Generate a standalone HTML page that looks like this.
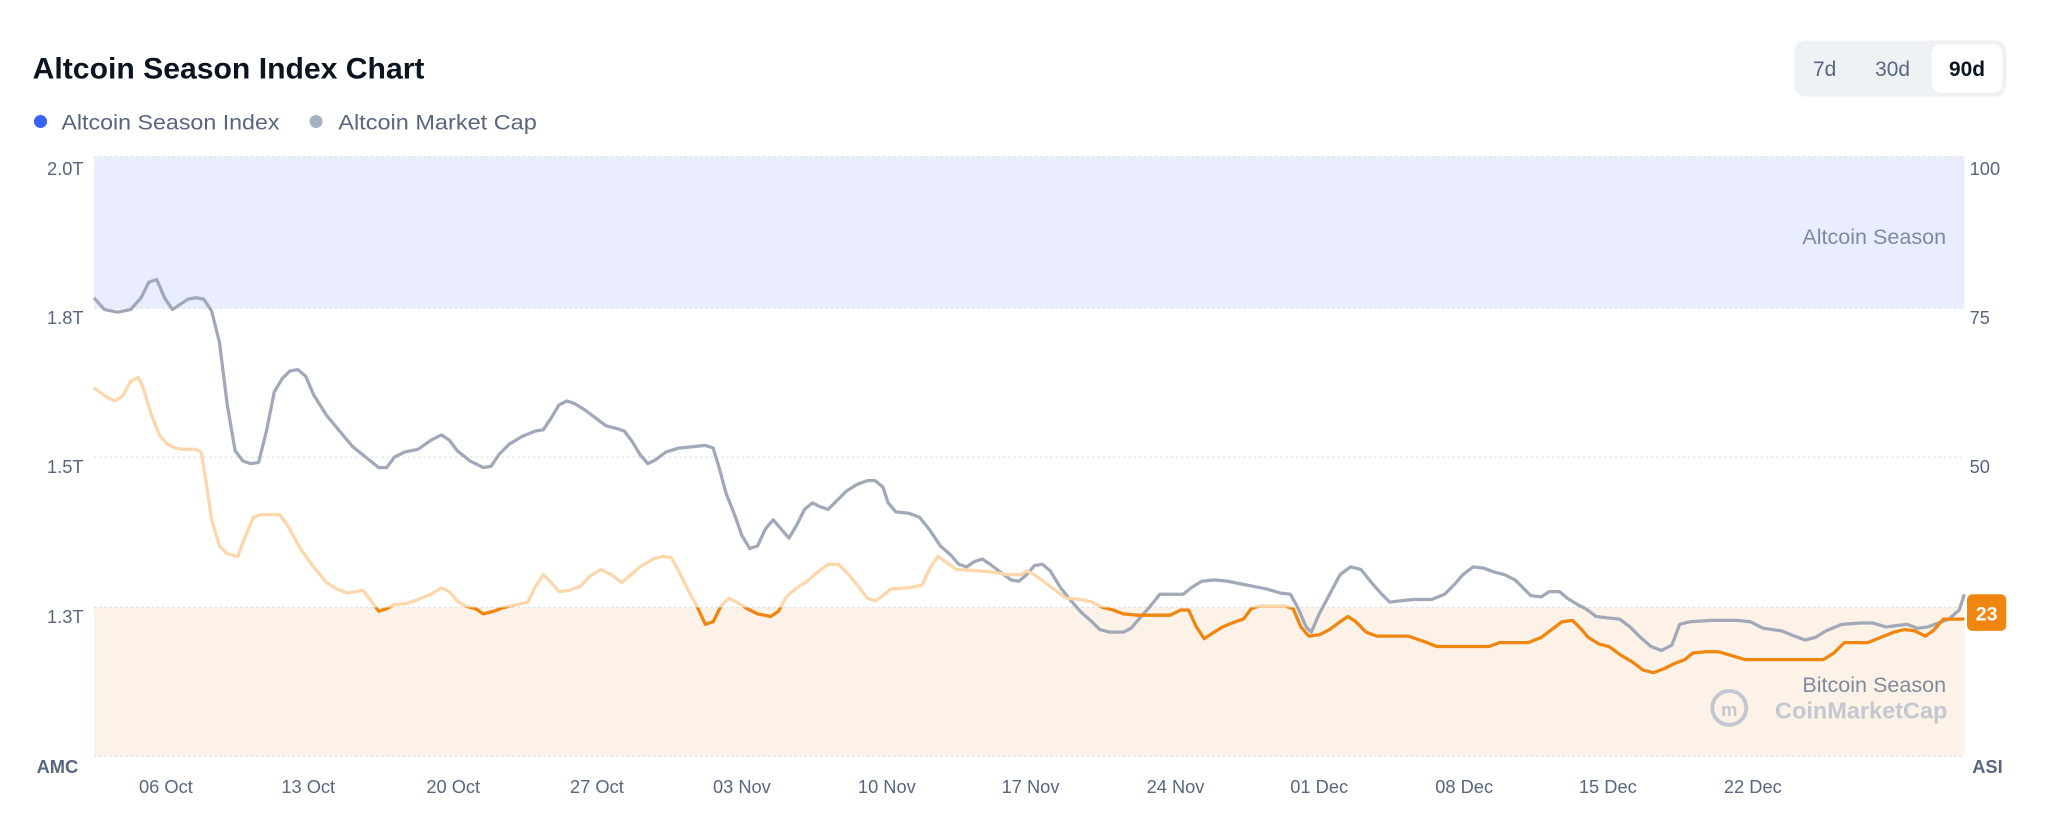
<!DOCTYPE html>
<html><head><meta charset="utf-8"><style>
html,body{margin:0;padding:0;background:#fff;}
svg{display:block;font-family:"Liberation Sans",sans-serif;}
</style></head><body>
<svg width="2048" height="832" viewBox="0 0 1568 637" xmlns="http://www.w3.org/2000/svg" xmlns:xlink="http://www.w3.org/1999/xlink">
<rect x="0" y="0" width="1568" height="637" fill="#fff"/>
<text x="25" y="60" font-size="22.5" font-weight="bold" fill="#0d1421" textLength="300" lengthAdjust="spacingAndGlyphs">Altcoin Season Index Chart</text>
<rect x="1374" y="31" width="162" height="43" rx="8" fill="#eff2f5"/>
<rect x="1479" y="34" width="54" height="37" rx="7" fill="#fff"/>
<text x="1397" y="58" font-size="16" fill="#58667e" text-anchor="middle">7d</text>
<text x="1449" y="58" font-size="16" fill="#58667e" text-anchor="middle">30d</text>
<text x="1506" y="58" font-size="16" font-weight="bold" fill="#0d1421" text-anchor="middle">90d</text>
<circle cx="31" cy="93" r="5" fill="#3861fb"/>
<text x="47" y="99" font-size="16.5" fill="#58667e" textLength="167" lengthAdjust="spacingAndGlyphs">Altcoin Season Index</text>
<circle cx="242" cy="93" r="5" fill="#a6b0c3"/>
<text x="259" y="99" font-size="16.5" fill="#58667e" textLength="152" lengthAdjust="spacingAndGlyphs">Altcoin Market Cap</text>
<rect x="72" y="120" width="1432" height="116" fill="#eaedfd"/>
<rect x="72" y="465" width="1432" height="114" fill="#fdf2e7"/>
<g stroke="#dfe3ea" stroke-dasharray="2,2" stroke-width="1">
<line x1="72" y1="120" x2="1504" y2="120"/><line x1="72" y1="236" x2="1504" y2="236"/>
<line x1="72" y1="350" x2="1504" y2="350"/><line x1="72" y1="465" x2="1504" y2="465"/>
<line x1="72" y1="579" x2="1504" y2="579"/>
</g>
<g font-size="14" fill="#58667e">
<text x="64" y="134" text-anchor="end">2.0T</text><text x="64" y="248" text-anchor="end">1.8T</text>
<text x="64" y="362" text-anchor="end">1.5T</text><text x="64" y="477" text-anchor="end">1.3T</text>
<text x="1508" y="134">100</text><text x="1508" y="248">75</text><text x="1508" y="362">50</text>
</g>
<text x="28" y="592" font-size="14" font-weight="bold" fill="#58667e">AMC</text>
<text x="1510" y="592" font-size="14" font-weight="bold" fill="#58667e">ASI</text>
<g font-size="14" fill="#58667e" text-anchor="middle">
<text x="127" y="607">06 Oct</text><text x="236" y="607">13 Oct</text><text x="347" y="607">20 Oct</text>
<text x="457" y="607">27 Oct</text><text x="568" y="607">03 Nov</text><text x="679" y="607">10 Nov</text>
<text x="789" y="607">17 Nov</text><text x="900" y="607">24 Nov</text><text x="1010" y="607">01 Dec</text>
<text x="1121" y="607">08 Dec</text><text x="1231" y="607">15 Dec</text><text x="1342" y="607">22 Dec</text>
</g>
<text x="1490" y="187" font-size="16.5" fill="#808a9d" text-anchor="end">Altcoin Season</text>
<text x="1490" y="530" font-size="16.5" fill="#808a9d" text-anchor="end">Bitcoin Season</text>
<circle cx="1324" cy="542" r="13" fill="none" stroke="#c4c7cf" stroke-width="3"/>
<text x="1324" y="548" font-size="14" font-weight="bold" fill="#c4c7cf" text-anchor="middle">m</text>
<text x="1491" y="550" font-size="18" font-weight="bold" fill="#c4c7cf" text-anchor="end">CoinMarketCap</text>
<defs>
<clipPath id="above"><rect x="0" y="0" width="1568" height="465"/></clipPath>
<clipPath id="below"><rect x="0" y="465" width="1568" height="200"/></clipPath>
<polyline id="asi" fill="none" stroke-width="2.5" stroke-linejoin="round" points="72,297 80,303 88,307 94,303 100,292 106,289 110,298 116,318 122,333 128,340 134,343 140,344 150,344 154,346 158,370 162,398 168,418 174,424 182,426 188,410 194,396 200,394 214,394 220,402 230,420 240,434 250,446 258,451 266,454 272,453 278,452 284,460 290,468 296,466 302,463 312,462 320,459 330,455 338,450 344,453 350,460 356,464 364,466 370,470 378,468 386,465 396,463 404,461 410,449 416,440 422,446 428,453 436,452 444,449 452,441 460,436 468,440 476,446 482,441 490,434 500,428 508,426 514,427 520,438 528,454 534,465 540,478 546,476 552,464 558,458 564,461 572,466 580,470 590,472 596,468 602,457 610,450 618,445 626,438 634,432 642,432 650,440 658,450 664,458 670,460 676,456 682,451 696,450 706,448 712,435 718,426 724,430 732,436 748,437 760,438 772,440 782,440 786,437 792,440 800,446 808,452 816,458 828,459 836,461 844,465 852,467 860,470 870,471 880,471 896,471 904,467 910,467 916,480 922,489 928,485 936,480 946,476 952,474 958,466 964,464 972,464 984,464 990,466 996,480 1002,487 1010,486 1018,482 1026,476 1032,472 1038,476 1046,484 1054,487 1066,487 1078,487 1090,491 1100,495 1114,495 1130,495 1140,495 1148,492 1158,492 1170,492 1180,488 1188,482 1196,476 1204,475 1210,481 1216,488 1224,493 1232,495 1240,501 1250,507 1258,513 1266,515 1274,512 1282,508 1290,505 1296,500 1306,499 1316,499 1326,502 1336,505 1350,505 1370,505 1396,505 1404,500 1412,492 1420,492 1430,492 1440,488 1450,484 1458,482 1466,483 1474,487 1480,483 1488,474 1496,474 1504,474"/>
</defs>
<polyline fill="none" stroke="#a1a9b9" stroke-width="2.5" stroke-linejoin="round" points="72,228 80,237 90,239 100,237 108,228 114,216 120,214 126,228 132,237 138,233 144,229 150,228 156,229 162,238 168,262 174,310 180,345 186,353 192,355 198,354 204,330 210,300 216,290 222,284 228,283 234,288 240,302 250,318 260,330 270,342 280,350 290,358 296,358 302,350 310,346 320,344 330,337 338,333 344,337 350,345 360,353 370,358 376,357 382,348 390,340 400,334 410,330 416,329 422,320 428,310 434,307 440,309 448,314 456,320 464,326 472,328 478,330 484,338 490,348 496,355 502,352 510,346 520,343 530,342 540,341 546,343 550,356 556,378 562,393 568,410 574,420 580,418 586,405 592,398 598,405 604,412 610,402 616,390 622,385 628,388 634,390 640,384 648,376 656,371 664,368 670,368 676,373 680,385 686,392 696,393 704,396 712,406 720,418 728,425 734,432 740,434 746,430 752,428 758,432 766,438 774,444 780,445 786,440 792,433 798,432 804,437 812,450 820,460 828,469 836,476 842,482 850,484 860,484 866,481 872,474 880,465 888,455 896,455 906,455 912,450 920,445 930,444 940,445 950,447 960,449 970,451 980,454 988,455 994,466 1000,480 1004,484 1010,470 1018,455 1026,440 1034,434 1042,436 1050,446 1058,455 1064,461 1072,460 1082,459 1096,459 1106,455 1114,447 1120,440 1128,434 1136,435 1144,438 1152,440 1160,444 1166,450 1172,456 1180,457 1186,453 1194,453 1200,458 1208,463 1214,466 1222,472 1230,473 1240,474 1248,480 1256,488 1264,495 1272,498 1280,494 1286,478 1294,476 1310,475 1330,475 1340,476 1350,481 1364,483 1374,487 1382,490 1390,488 1398,483 1410,478 1424,477 1434,477 1444,480 1452,479 1460,478 1468,481 1476,480 1484,477 1492,474 1500,467 1504,455"/>
<g clip-path="url(#above)"><use href="#asi" xlink:href="#asi" stroke="#fbd7ab"/></g>
<g clip-path="url(#below)"><use href="#asi" xlink:href="#asi" stroke="#f0860f"/></g>
<rect x="1506" y="455" width="30" height="28" rx="4" fill="#f0860f"/>
<text x="1521" y="475" font-size="15" font-weight="bold" fill="#fff" text-anchor="middle">23</text>
</svg>
</body></html>
